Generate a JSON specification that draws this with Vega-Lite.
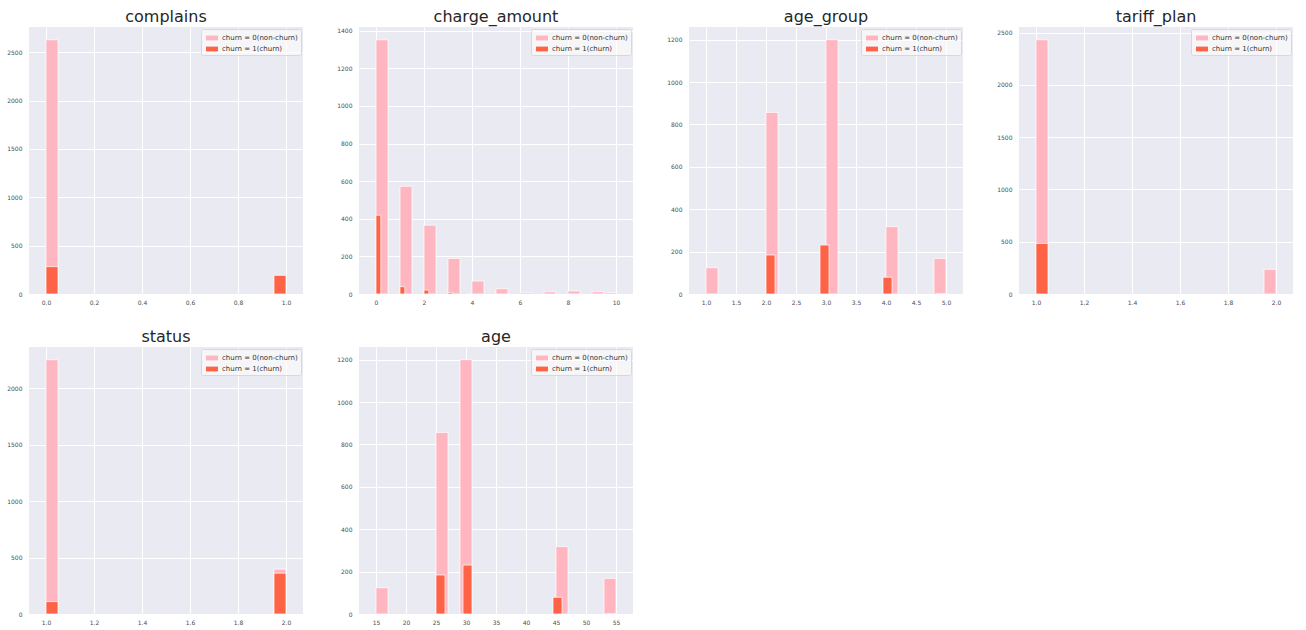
{
  "$schema": "https://vega.github.io/schema/vega-lite/v6.json",
  "padding": {"left": 6, "top": 9, "right": 5, "bottom": 5},
  "background": "white",
  "datasets": {
    "hist": [
      {"var": "complains", "churn": "churn = 0(non-churn)", "x0": 0, "x1": 0.05, "count": 2630},
      {"var": "complains", "churn": "churn = 0(non-churn)", "x0": 0.95, "x1": 1.0, "count": 40},
      {"var": "complains", "churn": "churn = 1(churn)", "x0": 0, "x1": 0.05, "count": 283},
      {"var": "complains", "churn": "churn = 1(churn)", "x0": 0.95, "x1": 1.0, "count": 193},

      {"var": "charge_amount", "churn": "churn = 0(non-churn)", "x0": 0, "x1": 0.5, "count": 1352},
      {"var": "charge_amount", "churn": "churn = 0(non-churn)", "x0": 1, "x1": 1.5, "count": 573},
      {"var": "charge_amount", "churn": "churn = 0(non-churn)", "x0": 2, "x1": 2.5, "count": 366},
      {"var": "charge_amount", "churn": "churn = 0(non-churn)", "x0": 3, "x1": 3.5, "count": 189},
      {"var": "charge_amount", "churn": "churn = 0(non-churn)", "x0": 4, "x1": 4.5, "count": 69},
      {"var": "charge_amount", "churn": "churn = 0(non-churn)", "x0": 5, "x1": 5.5, "count": 28},
      {"var": "charge_amount", "churn": "churn = 0(non-churn)", "x0": 6, "x1": 6.5, "count": 7},
      {"var": "charge_amount", "churn": "churn = 0(non-churn)", "x0": 7, "x1": 7.5, "count": 12},
      {"var": "charge_amount", "churn": "churn = 0(non-churn)", "x0": 8, "x1": 8.5, "count": 16},
      {"var": "charge_amount", "churn": "churn = 0(non-churn)", "x0": 9, "x1": 9.5, "count": 12},
      {"var": "charge_amount", "churn": "churn = 0(non-churn)", "x0": 9.5, "x1": 10, "count": 8},
      {"var": "charge_amount", "churn": "churn = 1(churn)", "x0": 0, "x1": 0.2, "count": 419},
      {"var": "charge_amount", "churn": "churn = 1(churn)", "x0": 1, "x1": 1.2, "count": 39},
      {"var": "charge_amount", "churn": "churn = 1(churn)", "x0": 2, "x1": 2.2, "count": 21},
      {"var": "charge_amount", "churn": "churn = 1(churn)", "x0": 3, "x1": 3.2, "count": 7},
      {"var": "charge_amount", "churn": "churn = 1(churn)", "x0": 3.8, "x1": 4.0, "count": 2},

      {"var": "age_group", "churn": "churn = 0(non-churn)", "x0": 1, "x1": 1.2, "count": 124},
      {"var": "age_group", "churn": "churn = 0(non-churn)", "x0": 2, "x1": 2.2, "count": 857},
      {"var": "age_group", "churn": "churn = 0(non-churn)", "x0": 3, "x1": 3.2, "count": 1200},
      {"var": "age_group", "churn": "churn = 0(non-churn)", "x0": 4, "x1": 4.2, "count": 318},
      {"var": "age_group", "churn": "churn = 0(non-churn)", "x0": 4.8, "x1": 5.0, "count": 168},
      {"var": "age_group", "churn": "churn = 1(churn)", "x0": 2, "x1": 2.15, "count": 184},
      {"var": "age_group", "churn": "churn = 1(churn)", "x0": 2.9, "x1": 3.05, "count": 231},
      {"var": "age_group", "churn": "churn = 1(churn)", "x0": 3.95, "x1": 4.1, "count": 79},
      {"var": "age_group", "churn": "churn = 1(churn)", "x0": 4.85, "x1": 5.0, "count": 2},

      {"var": "tariff_plan", "churn": "churn = 0(non-churn)", "x0": 1, "x1": 1.05, "count": 2433},
      {"var": "tariff_plan", "churn": "churn = 0(non-churn)", "x0": 1.95, "x1": 2.0, "count": 236},
      {"var": "tariff_plan", "churn": "churn = 1(churn)", "x0": 1, "x1": 1.05, "count": 484},

      {"var": "status", "churn": "churn = 0(non-churn)", "x0": 1, "x1": 1.05, "count": 2255},
      {"var": "status", "churn": "churn = 0(non-churn)", "x0": 1.95, "x1": 2.0, "count": 398},
      {"var": "status", "churn": "churn = 1(churn)", "x0": 1, "x1": 1.05, "count": 110},
      {"var": "status", "churn": "churn = 1(churn)", "x0": 1.95, "x1": 2.0, "count": 362},

      {"var": "age", "churn": "churn = 0(non-churn)", "x0": 15, "x1": 17, "count": 124},
      {"var": "age", "churn": "churn = 0(non-churn)", "x0": 25, "x1": 27, "count": 857},
      {"var": "age", "churn": "churn = 0(non-churn)", "x0": 29, "x1": 31, "count": 1200},
      {"var": "age", "churn": "churn = 0(non-churn)", "x0": 45, "x1": 47, "count": 318},
      {"var": "age", "churn": "churn = 0(non-churn)", "x0": 53, "x1": 55, "count": 168},
      {"var": "age", "churn": "churn = 1(churn)", "x0": 25, "x1": 26.5, "count": 184},
      {"var": "age", "churn": "churn = 1(churn)", "x0": 29.5, "x1": 31, "count": 231},
      {"var": "age", "churn": "churn = 1(churn)", "x0": 44.5, "x1": 46, "count": 79},
      {"var": "age", "churn": "churn = 1(churn)", "x0": 53.5, "x1": 55, "count": 2}
    ]
  },
  "columns": 4,
  "spacing": {"row": 53, "column": 56},
  "bounds": "flush",
  "resolve": {"scale": {"color": "independent", "x": "independent", "y": "independent"}, "legend": {"color": "independent"}},
  "concat": [
    {
      "title": "complains",
      "width": 274, "height": 267,
      "data": {"name": "hist"},
      "transform": [{"filter": "datum.var === 'complains'"}],
      "mark": {"type": "bar", "stroke": "white", "strokeWidth": 0.7, "orient": "vertical"},
      "encoding": {
        "x": {"field": "x0", "type": "quantitative", "title": null, "scale": {"domain": [-0.05, 1.05], "nice": false, "zero": false}, "axis": {"values": [0, 0.2, 0.4, 0.6, 0.8, 1.0], "format": ".1f"}},
        "x2": {"field": "x1"},
        "y": {"field": "count", "type": "quantitative", "stack": null, "title": null, "scale": {"domain": [0, 2762], "nice": false}, "axis": {"values": [0, 500, 1000, 1500, 2000, 2500], "format": "d"}},
        "y2": {"datum": 0},
        "order": {"field": "churn"},
        "color": {"field": "churn", "type": "nominal", "scale": {"domain": ["churn = 0(non-churn)", "churn = 1(churn)"], "range": ["#FFB6C1", "#FF6347"]}, "legend": {"title": null}}
      }
    },
    {
      "title": "charge_amount",
      "width": 274, "height": 267,
      "data": {"name": "hist"},
      "transform": [{"filter": "datum.var === 'charge_amount'"}],
      "mark": {"type": "bar", "stroke": "white", "strokeWidth": 0.7, "orient": "vertical"},
      "encoding": {
        "x": {"field": "x0", "type": "quantitative", "title": null, "scale": {"domain": [-0.5, 10.5], "nice": false, "zero": false}, "axis": {"values": [0, 2, 4, 6, 8, 10], "format": "d"}},
        "x2": {"field": "x1"},
        "y": {"field": "count", "type": "quantitative", "stack": null, "title": null, "scale": {"domain": [0, 1420], "nice": false}, "axis": {"values": [0, 200, 400, 600, 800, 1000, 1200, 1400], "format": "d"}},
        "y2": {"datum": 0},
        "order": {"field": "churn"},
        "color": {"field": "churn", "type": "nominal", "scale": {"domain": ["churn = 0(non-churn)", "churn = 1(churn)"], "range": ["#FFB6C1", "#FF6347"]}, "legend": {"title": null}}
      }
    },
    {
      "title": "age_group",
      "width": 274, "height": 267,
      "data": {"name": "hist"},
      "transform": [{"filter": "datum.var === 'age_group'"}],
      "mark": {"type": "bar", "stroke": "white", "strokeWidth": 0.7, "orient": "vertical"},
      "encoding": {
        "x": {"field": "x0", "type": "quantitative", "title": null, "scale": {"domain": [0.8, 5.2], "nice": false, "zero": false}, "axis": {"values": [1, 1.5, 2, 2.5, 3, 3.5, 4, 4.5, 5], "format": ".1f"}},
        "x2": {"field": "x1"},
        "y": {"field": "count", "type": "quantitative", "stack": null, "title": null, "scale": {"domain": [0, 1260], "nice": false}, "axis": {"values": [0, 200, 400, 600, 800, 1000, 1200], "format": "d"}},
        "y2": {"datum": 0},
        "order": {"field": "churn"},
        "color": {"field": "churn", "type": "nominal", "scale": {"domain": ["churn = 0(non-churn)", "churn = 1(churn)"], "range": ["#FFB6C1", "#FF6347"]}, "legend": {"title": null}}
      }
    },
    {
      "title": "tariff_plan",
      "width": 274, "height": 267,
      "data": {"name": "hist"},
      "transform": [{"filter": "datum.var === 'tariff_plan'"}],
      "mark": {"type": "bar", "stroke": "white", "strokeWidth": 0.7, "orient": "vertical"},
      "encoding": {
        "x": {"field": "x0", "type": "quantitative", "title": null, "scale": {"domain": [0.95, 2.05], "nice": false, "zero": false}, "axis": {"values": [1, 1.2, 1.4, 1.6, 1.8, 2.0], "format": ".1f"}},
        "x2": {"field": "x1"},
        "y": {"field": "count", "type": "quantitative", "stack": null, "title": null, "scale": {"domain": [0, 2555], "nice": false}, "axis": {"values": [0, 500, 1000, 1500, 2000, 2500], "format": "d"}},
        "y2": {"datum": 0},
        "order": {"field": "churn"},
        "color": {"field": "churn", "type": "nominal", "scale": {"domain": ["churn = 0(non-churn)", "churn = 1(churn)"], "range": ["#FFB6C1", "#FF6347"]}, "legend": {"title": null}}
      }
    },
    {
      "title": "status",
      "width": 274, "height": 267,
      "data": {"name": "hist"},
      "transform": [{"filter": "datum.var === 'status'"}],
      "mark": {"type": "bar", "stroke": "white", "strokeWidth": 0.7, "orient": "vertical"},
      "encoding": {
        "x": {"field": "x0", "type": "quantitative", "title": null, "scale": {"domain": [0.95, 2.05], "nice": false, "zero": false}, "axis": {"values": [1, 1.2, 1.4, 1.6, 1.8, 2.0], "format": ".1f"}},
        "x2": {"field": "x1"},
        "y": {"field": "count", "type": "quantitative", "stack": null, "title": null, "scale": {"domain": [0, 2368], "nice": false}, "axis": {"values": [0, 500, 1000, 1500, 2000], "format": "d"}},
        "y2": {"datum": 0},
        "order": {"field": "churn"},
        "color": {"field": "churn", "type": "nominal", "scale": {"domain": ["churn = 0(non-churn)", "churn = 1(churn)"], "range": ["#FFB6C1", "#FF6347"]}, "legend": {"title": null}}
      }
    },
    {
      "title": "age",
      "width": 274, "height": 267,
      "data": {"name": "hist"},
      "transform": [{"filter": "datum.var === 'age'"}],
      "mark": {"type": "bar", "stroke": "white", "strokeWidth": 0.7, "orient": "vertical"},
      "encoding": {
        "x": {"field": "x0", "type": "quantitative", "title": null, "scale": {"domain": [13, 57], "nice": false, "zero": false}, "axis": {"values": [15, 20, 25, 30, 35, 40, 45, 50, 55], "format": "d"}},
        "x2": {"field": "x1"},
        "y": {"field": "count", "type": "quantitative", "stack": null, "title": null, "scale": {"domain": [0, 1260], "nice": false}, "axis": {"values": [0, 200, 400, 600, 800, 1000, 1200], "format": "d"}},
        "y2": {"datum": 0},
        "order": {"field": "churn"},
        "color": {"field": "churn", "type": "nominal", "scale": {"domain": ["churn = 0(non-churn)", "churn = 1(churn)"], "range": ["#FFB6C1", "#FF6347"]}, "legend": {"title": null}}
      }
    }
  ],
  "config": {
    "font": "DejaVu Sans",
    "view": {"fill": "#EAEAF2", "stroke": null},
    "axis": {
      "domain": false, "ticks": false, "grid": true, "gridColor": "#FFFFFF", "gridWidth": 1,
      "labelFontSize": 6, "labelColor": "#4D4D4D", "labelFont": "DejaVu Sans"
    },
    "axisX": {"labelPadding": 5},
    "axisY": {"labelPadding": 7},
    "title": {"fontSize": 16, "fontWeight": "normal", "color": "#262626", "font": "DejaVu Sans", "offset": 2, "anchor": "middle"},
    "legend": {
      "orient": "top-right", "offset": 2, "padding": 3, "fillColor": "rgba(255,255,255,0.55)", "strokeColor": "#D8D8D8", "cornerRadius": 2,
      "labelFontSize": 7, "labelColor": "#333333", "labelFont": "DejaVu Sans", "rowPadding": 2,
      "symbolType": "M-1,-0.4H1V0.4H-1Z", "symbolSize": 144, "symbolStrokeWidth": 0, "symbolOffset": 2
    }
  }
}
